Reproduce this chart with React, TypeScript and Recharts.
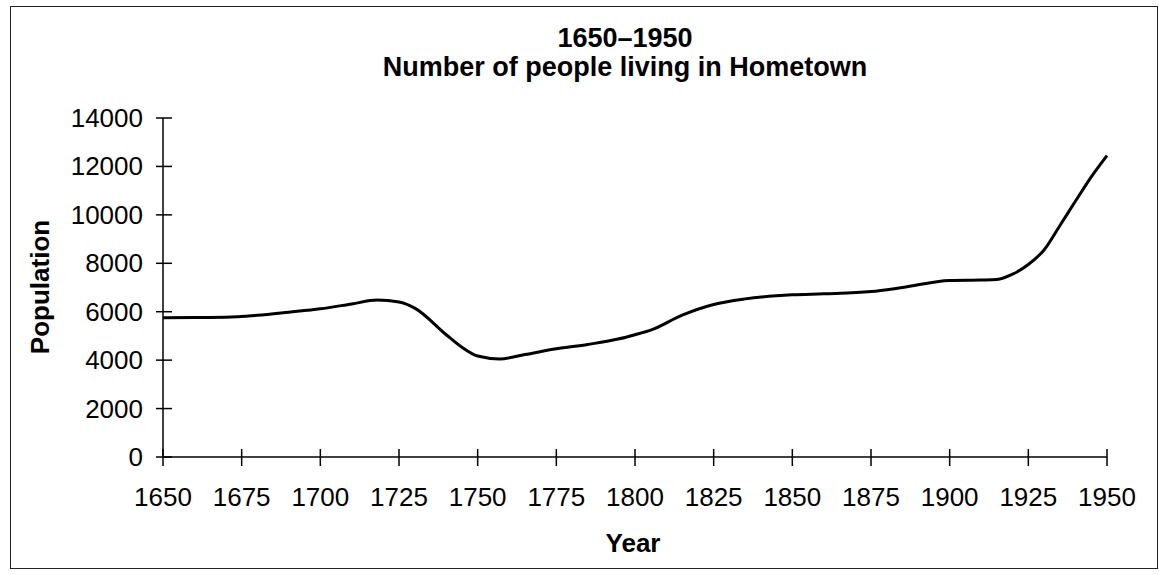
import { Line, LineChart, XAxis, YAxis } from "recharts";

const years = [
  1650, 1660, 1670, 1680, 1690, 1700, 1710, 1718, 1725, 1730, 1740, 1745,
  1750, 1757, 1765, 1775, 1785, 1795, 1800, 1805, 1815, 1825, 1835, 1850,
  1860, 1875, 1885, 1900, 1910, 1915, 1920, 1925, 1930, 1935, 1940, 1945,
  1950,
];
const population = [
  5750, 5760, 5770, 5850, 5980, 6120, 6320, 6480, 6400, 6150, 5050, 4530,
  4170, 4050, 4230, 4470, 4650, 4880, 5050, 5240, 5860, 6300, 6530, 6700,
  6740, 6830, 7000, 7290, 7310, 7330, 7550, 7950, 8550, 9550, 10570, 11570,
  12450,
];
const xTicks = [1650, 1675, 1700, 1725, 1750, 1775, 1800, 1825, 1850, 1875, 1900, 1925, 1950];
const yTicks = [0, 2000, 4000, 6000, 8000, 10000, 12000, 14000];

const titleLines = ["1650\u20131950", "Number of people living in Hometown"];

const FONT = "'Liberation Sans', Arial, sans-serif";

type TickProps = {
  x?: number | string;
  y?: number | string;
  payload?: { value?: number | string };
};

function renderXTick({ x = 0, y = 0, payload }: TickProps) {
  const tx = Number(x);
  const ty = Number(y);
  return (
    <g>
      <line x1={tx} x2={tx} y1={ty - 8} y2={ty + 9} stroke="#000" strokeWidth={1.5} />
      <text x={tx} y={ty + 49} textAnchor="middle" fill="#000" fontSize={26} fontFamily={FONT}>
        {payload?.value}
      </text>
    </g>
  );
}

function renderYTick({ x = 0, y = 0, payload }: TickProps) {
  const tx = Number(x);
  const ty = Number(y);
  return (
    <g>
      <line x1={tx - 7} x2={tx + 9} y1={ty} y2={ty} stroke="#000" strokeWidth={1.5} />
      <text x={tx - 20} y={ty + 9} textAnchor="end" fill="#000" fontSize={26} fontFamily={FONT}>
        {payload?.value}
      </text>
    </g>
  );
}

export default function App() {
  const data = years.map((year, i) => ({ year, population: population[i] }));

  return (
    <div style={{ position: "absolute", left: 0, top: 0, width: 1159, height: 575, background: "#fff" }}>
      <div
        style={{
          position: "absolute",
          left: 10,
          top: 6,
          width: 1146,
          height: 561,
          border: "1.5px solid #222",
        }}
      />
      <div style={{ position: "absolute", left: 0, top: 0 }}>
        <LineChart width={1159} height={575} data={data} margin={{ top: 118, right: 52, bottom: 28, left: 63 }}>
          <XAxis
            dataKey="year"
            type="number"
            domain={[1650, 1950]}
            ticks={xTicks}
            interval={0}
            tick={renderXTick}
            tickLine={false}
            tickSize={0}
            tickMargin={0}
            height={90}
            axisLine={{ stroke: "#000", strokeWidth: 1.5 }}
          />
          <XAxis xAxisId="top" orientation="top" dataKey="year" type="number" domain={[1650, 1950]} tick={false} tickLine={false} height={0} axisLine={{ stroke: "#000", strokeWidth: 1.5 }} />
          <YAxis
            domain={[0, 14000]}
            ticks={yTicks}
            interval={0}
            tick={renderYTick}
            tickLine={false}
            tickSize={0}
            tickMargin={0}
            width={100}
            axisLine={{ stroke: "#000", strokeWidth: 1.5 }}
          />
          <YAxis yAxisId="right" orientation="right" domain={[0, 14000]} tick={false} tickLine={false} width={0} axisLine={{ stroke: "#000", strokeWidth: 1.5 }} />
          <Line
            type="monotone"
            dataKey="population"
            stroke="#000"
            strokeWidth={3}
            dot={false}
            isAnimationActive={false}
          />
        </LineChart>
      </div>
      <svg width={1159} height={575} style={{ position: "absolute", left: 0, top: 0, pointerEvents: "none" }}>
        <g fontFamily={FONT} fontWeight="bold" fill="#000">
          <text x={625} y={47} textAnchor="middle" fontSize={27}>{titleLines[0]}</text>
          <text x={625} y={76} textAnchor="middle" fontSize={27}>{titleLines[1]}</text>
          <text x={633} y={552} textAnchor="middle" fontSize={26}>Year</text>
          <text x={49} y={287} textAnchor="middle" fontSize={26} transform="rotate(-90 49 287)">Population</text>
        </g>
      </svg>
    </div>
  );
}
